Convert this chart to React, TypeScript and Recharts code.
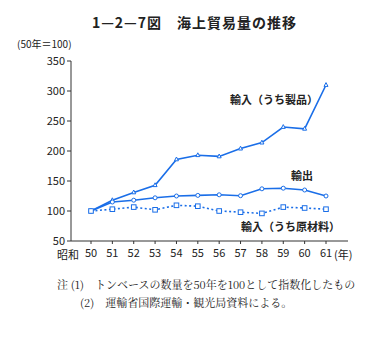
import React from "react";
import { LineChart, Line, XAxis, YAxis } from "recharts";

const years = ["50", "51", "52", "53", "54", "55", "56", "57", "58", "59", "60", "61"];
const products = [100, 118, 131, 143, 186, 193, 191, 204, 214, 240, 237, 310];
const exportsV = [100, 115, 118, 122, 125, 126, 127, 125.5, 137, 138, 135, 125];
const rawMaterials = [100, 103, 106.5, 102, 109.5, 108, 100, 98, 96, 106.5, 105, 103];
const yTicks = [50, 100, 150, 200, 250, 300, 350];

const data = years.map((y, i) => ({
  year: y,
  products: products[i],
  exports: exportsV[i],
  raw: rawMaterials[i],
}));

const BLUE = "#1a6ee8";
const FONT = "'Noto Sans CJK JP', 'Noto Sans', sans-serif";

const Tri = (props: any) => {
  const { cx, cy } = props;
  if (cx == null || cy == null) return null;
  return <polygon points={`${cx},${cy - 2.4} ${cx - 2},${cy + 1.4} ${cx + 2},${cy + 1.4}`} fill="#fff" stroke={BLUE} strokeWidth={1} />;
};
const Circ = (props: any) => {
  const { cx, cy } = props;
  if (cx == null || cy == null) return null;
  return <circle cx={cx} cy={cy} r={2} fill="#fff" stroke={BLUE} strokeWidth={1} />;
};
const Sq = (props: any) => {
  const { cx, cy } = props;
  if (cx == null || cy == null) return null;
  return <rect x={cx - 2.3} y={cy - 2.3} width={4.6} height={4.6} fill="#fff" stroke={BLUE} strokeWidth={1} />;
};

const txt: React.CSSProperties = { position: "absolute", fontFamily: FONT, color: "#222", whiteSpace: "nowrap", lineHeight: 1 };

export default function App() {
  return (
    <div style={{ position: "absolute", left: 0, top: 0, width: 389, height: 342, background: "#fff", fontFamily: FONT }}>
      <LineChart width={389} height={342} data={data} margin={{ top: 61, right: 41, bottom: 81, left: 0 }}>
        <XAxis
          dataKey="year"
          padding={{ left: 20, right: 22 }}
          height={20}
          tick={{ fontSize: 11, fill: "#222", fontFamily: FONT, dy: 3 }}
          tickSize={3}
          stroke="#333"
          interval={0}
        />
        <XAxis xAxisId="top" orientation="top" dataKey="year" height={0} tick={false} tickLine={false} stroke="#333" />
        <YAxis
          domain={[50, 350]}
          ticks={yTicks}
          width={71}
          tick={{ fontSize: 11, fill: "#222", fontFamily: FONT }}
          tickSize={4}
          stroke="#333"
          interval={0}
        />
        <YAxis yAxisId="right" orientation="right" width={0} tick={false} tickLine={false} stroke="#333" domain={[50, 350]} />
        <Line dataKey="products" stroke={BLUE} strokeWidth={1.6} dot={<Tri />} isAnimationActive={false} />
        <Line dataKey="exports" stroke={BLUE} strokeWidth={1.6} dot={<Circ />} isAnimationActive={false} />
        <Line dataKey="raw" stroke={BLUE} strokeWidth={1.6} strokeDasharray="2 2.5" dot={<Sq />} isAnimationActive={false} />
      </LineChart>
      <div style={{ ...txt, left: 0, width: 389, textAlign: "center", top: 15, fontSize: 14, fontWeight: 700, letterSpacing: 1 }}>
        1—2—7図　海上貿易量の推移
      </div>
      <div style={{ ...txt, left: 17, top: 39, fontSize: 10 }}>(50年＝100)</div>
      <div style={{ ...txt, left: 230, top: 94, fontSize: 11, fontWeight: 700 }}>輸入（うち製品）</div>
      <div style={{ ...txt, left: 291, top: 170, fontSize: 11, fontWeight: 700 }}>輸出</div>
      <div style={{ ...txt, left: 241, top: 221, fontSize: 11, fontWeight: 700 }}>輸入（うち原材料）</div>
      <div style={{ ...txt, left: 57, top: 249, fontSize: 11 }}>昭和</div>
      <div style={{ ...txt, left: 334, top: 249, fontSize: 11 }}>(年)</div>
      <div style={{ ...txt, left: 57, top: 279, fontSize: 11, fontFamily: "'Noto Serif CJK JP', 'Noto Sans CJK JP', serif" }}>
        注 (1)　トンベースの数量を50年を100として指数化したもの
      </div>
      <div style={{ ...txt, left: 80, top: 297, fontSize: 11, fontFamily: "'Noto Serif CJK JP', 'Noto Sans CJK JP', serif" }}>
        (2)　運輸省国際運輸・観光局資料による。
      </div>
    </div>
  );
}
